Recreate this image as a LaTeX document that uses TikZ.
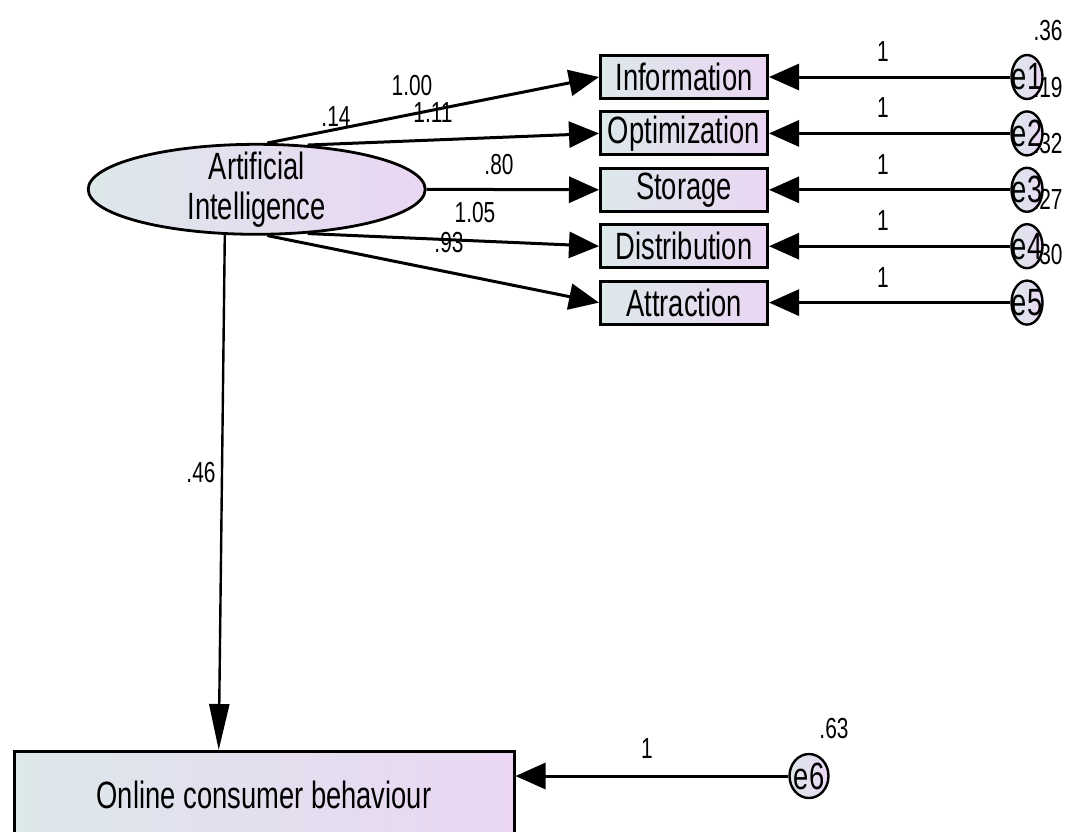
\documentclass[tikz,border=0pt]{standalone}
\usepackage{fontspec}
\setmainfont{Liberation Sans}[FakeStretch=0.72]
\usetikzlibrary{arrows.meta,positioning,shapes.geometric,calc}

\definecolor{semleft}{RGB}{220,232,234}
\definecolor{semright}{RGB}{234,214,243}

\begin{document}
\begin{tikzpicture}[
  x=0.5pt, y=-0.5pt,
  node distance=5.2pt,
  latent/.style={ellipse, draw, line width=1.4pt, left color=semleft, right color=semright, minimum width=168.5pt, minimum height=45pt, inner sep=0pt},
  observed/.style={rectangle, draw, line width=1.5pt, left color=semleft, right color=semright, minimum width=83.5pt, minimum height=21.5pt, inner sep=0pt, font=\fontsize{19}{20}\selectfont},
  errvar/.style={ellipse, draw, line width=1.2pt, left color=semleft, right color=semright, minimum width=15.5pt, minimum height=22pt, inner sep=0pt, label={[font=\fontsize{19}{19}\selectfont, inner sep=0pt]center:#1}},
  coef/.style={font=\fontsize{14.5}{14.5}\selectfont, inner sep=0pt},
  arr/.style={line width=1.5pt, -{Triangle[length=15pt, width=13pt]}},
  varr/.style={line width=1.2pt, -{Triangle[length=23pt, width=10pt]}}
]
  \useasboundingbox (0,0) rectangle (1066,831);

  % latent variable and its indicators
  \node[latent] (ai) at (256.7,189.3) {};
  \node[align=center, font=\fontsize{19}{20}\selectfont, inner sep=0pt] (ailabel) at (ai) {Artificial\\Intelligence};

  \node[observed] (info) at (684,77) {Information};
  \node[observed, below=of info] (opt) {Optimization};
  \node[observed, below=of opt] (stor) {Storage};
  \node[observed, below=of stor] (dist) {Distribution};
  \node[observed, below=of dist] (attr) {Attraction};

  \node[observed, minimum width=250pt, minimum height=43.5pt] (ocb) at (264,795) {Online consumer behaviour};

  % variances (drawn before the error terms)
  \node[coef, anchor=base east] (v1) at (1063,40) {.36};
  \node[coef, anchor=base east] (v2) at (1063,97) {.19};
  \node[coef, anchor=base east] (v3) at (1063,153) {.32};
  \node[coef, anchor=base east] (v4) at (1063,209) {.27};
  \node[coef, anchor=base east] (v5) at (1063,264) {.30};
  \node[coef] (v6) at (834,729) {.63};

  \node[errvar=e1] (e1) at (1027,77) {};
  \node[errvar=e2] (e2) at (e1 |- opt) {};
  \node[errvar=e3] (e3) at (e1 |- stor) {};
  \node[errvar=e4] (e4) at (e1 |- dist) {};
  \node[errvar=e5] (e5) at (e1 |- attr) {};
  \node[errvar=e6, minimum width=19.5pt] (e6) at (809,776) {};

  % loadings
  \draw[arr] (ai.77.5) -- (info.west);
  \draw[arr] (ai.41.4) -- (opt.west);
  \draw[arr] (ai.east) -- (stor.west);
  \draw[arr] (ai.-41.4) -- (dist.west);
  \draw[arr] (ai.-77.5) -- (attr.west);
  \draw[varr] (ai.-125) -- ($(ocb.north west)!0.41!(ocb.north east)$);

  \node[coef] (w1) at (412,86) {1.00};
  \node[coef] (vai) at (336,117) {.14};
  \node[coef] (w2) at (433,113) {1.11};
  \node[coef] (w3) at (499,165) {.80};
  \node[coef] (w4) at (475,213) {1.05};
  \node[coef] (w5) at (449,243) {.93};
  \node[coef] (w6) at (201,473) {.46};

  % error paths
  \draw[arr] (e1) -- (info);
  \draw[arr] (e2) -- (opt);
  \draw[arr] (e3) -- (stor);
  \draw[arr] (e4) -- (dist);
  \draw[arr] (e5) -- (attr);
  \draw[arr] (e6.west) -- (e6.west -| ocb.east);

  \foreach \n/\yy in {1/52,2/108,3/165,4/221,5/278}
    \node[coef] (f\n) at (883,\yy) {1};
  \node[coef] (f6) at (647,749) {1};
\end{tikzpicture}
\end{document}
